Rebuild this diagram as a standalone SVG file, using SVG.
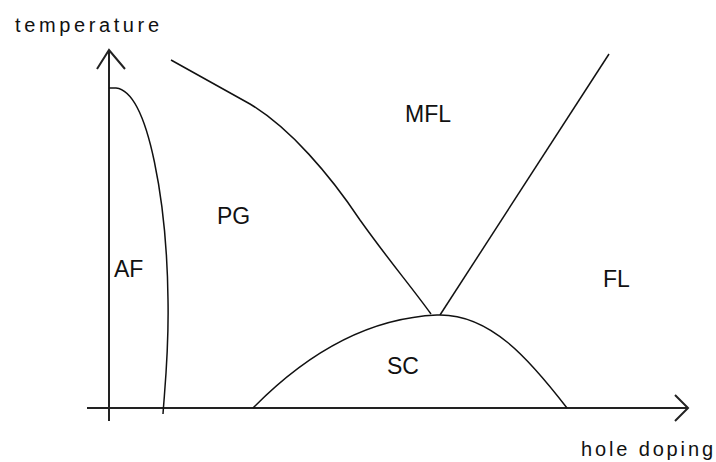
<svg xmlns="http://www.w3.org/2000/svg" width="716" height="462" viewBox="0 0 716 462">
<style>
.axis{fill:none;stroke:#222;stroke-width:2}
.curve{fill:none;stroke:#111;stroke-width:1.5}
.lbl{font-family:"Liberation Sans",Arial,sans-serif;font-size:23px;fill:#111}
.ax{font-family:"Liberation Sans",Arial,sans-serif;font-size:20px;fill:#111}
</style>
<rect width="716" height="462" fill="#fff"/>
<g id="axes">
<line class="axis" x1="87" y1="408" x2="688" y2="408"/>
<polyline class="axis" points="675,395 688,408 675,421"/>
<line class="axis" x1="109" y1="50" x2="109" y2="421"/>
<polyline class="axis" points="97,69 109,50 125,69"/>
</g>
<g id="connectors">
<path id="af-boundary" class="curve" d="M109,88 L116,88 C150,92 167,210 168,300 C169,350 165,385 163,414"/>
<path id="pg-boundary" class="curve" d="M171,60 L250,104 C290,128 330,175 360,220 C390,262 410,285 431,314"/>
<path id="mfl-fl-boundary" class="curve" d="M440,315 L609,54"/>
<path id="sc-dome" class="curve" d="M253,408 C310,350 370,318 437,315 C490,313 530,360 567,408"/>
</g>
<g id="label-temperature"><text class="ax" x="15" y="32" textLength="144" lengthAdjust="spacing">temperature</text></g>
<g id="label-hole-doping"><text class="ax" x="581" y="456" textLength="132" lengthAdjust="spacing">hole doping</text></g>
<g id="node-MFL"><text class="lbl" x="405" y="122">MFL</text></g>
<g id="node-PG"><text class="lbl" x="217" y="224">PG</text></g>
<g id="node-AF"><text class="lbl" x="114" y="277">AF</text></g>
<g id="node-FL"><text class="lbl" x="603" y="287">FL</text></g>
<g id="node-SC"><text class="lbl" x="387" y="374">SC</text></g>
</svg>
